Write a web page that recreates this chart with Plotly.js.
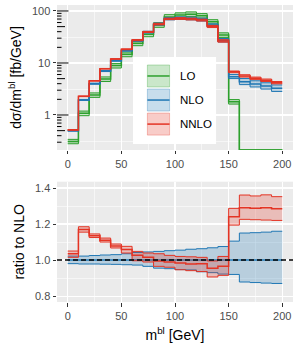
<!DOCTYPE html>
<html>
<head>
<meta charset="utf-8">
<script src="https://cdn.plot.ly/plotly-3.0.1.min.js"></script>
<style>html,body{margin:0;padding:0;background:#fff;}#chart{width:300px;height:350px;}</style>
</head>
<body>
<div id="chart"></div>
<script>
// ---- data (bin edges in GeV) ----
const edges = [0,10,20,30,40,50,60,70,80,90,100,110,120,130,140,150,160,170,180,190,200];
// top panel: dσ/dm^bl [fb/GeV]
const LO_c  = [0.31,1.08,2.42,4.9,8.9,14.7,23.9,35.5,54,77,84,87,81,62,34.5,1.8,0,0,0,0];
const LO_lo = [0.28,0.97,2.18,4.4,8.0,13.2,21.5,32,48.5,69,76,78,73,56,31,1.62,0,0,0,0];
const LO_hi = [0.34,1.19,2.66,5.4,9.8,16.2,26.3,39,59.5,85,92,96,89,68,38,1.98,0,0,0,0];
const NLO_c = [0.5,1.95,4.0,7.0,11.1,17.3,26.9,39,56,71,73,71.5,68.5,53,27.5,5.45,4.37,3.95,3.61,3.26];
// bottom panel: ratio to NLO
const rNLO_lo  = [0.98,0.978,0.978,0.977,0.976,0.974,0.972,0.965,0.955,0.952,0.947,0.945,0.935,0.93,0.922,0.92,0.878,0.875,0.872,0.87];
const rNLO_hi  = [1.022,1.022,1.025,1.028,1.03,1.035,1.042,1.045,1.048,1.052,1.055,1.06,1.063,1.068,1.075,1.105,1.15,1.152,1.155,1.16];
const rNNLO_c  = [1.035,1.17,1.135,1.11,1.078,1.058,1.026,1.015,0.995,0.989,0.983,0.978,0.98,0.955,0.965,1.24,1.29,1.288,1.29,1.285];
const rNNLO_lo = [1.015,1.155,1.125,1.10,1.067,1.039,0.996,0.989,0.965,0.96,0.946,0.941,0.936,0.906,0.915,1.194,1.226,1.224,1.222,1.22];
const rNNLO_hi = [1.05,1.185,1.145,1.122,1.089,1.076,1.048,1.039,1.035,1.026,1.02,1.018,1.015,0.995,1.02,1.287,1.361,1.356,1.362,1.352];
const xTicks = [0,50,100,150,200];
const yTopTicks = [1,10,100];
const yBotTicks = [0.8,1.0,1.2,1.4];
const logTicks = [0.3,0.4,0.5,0.6,0.7,0.8,0.9,1,2,3,4,5,6,7,8,9,10,20,30,40,50,60,70,80,90,100];
const legendLabels = ['LO','NLO','NNLO'];

// ---- derived quantities ----
const NLO_lo  = NLO_c.map((v,i)=>v*rNLO_lo[i]);
const NLO_hi  = NLO_c.map((v,i)=>v*rNLO_hi[i]);
const NNLO_c  = NLO_c.map((v,i)=>v*rNNLO_c[i]);
const NNLO_lo = NLO_c.map((v,i)=>v*rNNLO_lo[i]);
const NNLO_hi = NLO_c.map((v,i)=>v*rNNLO_hi[i]);
const rNLO_c  = NLO_c.map(v=>v/v);

const topRange = [-0.673, 2.115];
const botRange = [0.767, 1.435];
const floorVal = Math.pow(10, topRange[0]); // zero on log scale drawn at panel edge (like ggplot -Inf)

const GREEN = '#2ca02c', BLUE = '#1f77b4', RED = '#e43424';
function rgba(hex,a){const n=parseInt(hex.slice(1),16);return `rgba(${n>>16},${(n>>8)&255},${n&255},${a})`;}
function step(v, isLog){ const w = isLog ? v.map(x=> x>0 ? x : floorVal) : v.slice(); return w.concat([w[w.length-1]]); }

const traces = [];
function band(lo, c, hi, color, xa, ya, isLog){
  traces.push({x:edges, y:step(lo,isLog), xaxis:xa, yaxis:ya, mode:'lines', line:{shape:'hv', color:color, width:1}, showlegend:false, hoverinfo:'skip'});
  traces.push({x:edges, y:step(hi,isLog), xaxis:xa, yaxis:ya, mode:'lines', fill:'tonexty', fillcolor:rgba(color,0.25), line:{shape:'hv', color:color, width:1}, showlegend:false, hoverinfo:'skip'});
  if(c) traces.push({x:edges, y:step(c,isLog), xaxis:xa, yaxis:ya, mode:'lines', line:{shape:'hv', color:color, width:1.5}, showlegend:false});
}
band(LO_lo, LO_c, LO_hi, GREEN, 'x', 'y', true);
band(NLO_lo, NLO_c, NLO_hi, BLUE, 'x', 'y', true);
band(NNLO_lo, NNLO_c, NNLO_hi, RED, 'x', 'y', true);
band(rNLO_lo, rNLO_c, rNLO_hi, BLUE, 'x2', 'y2', false);
band(rNNLO_lo, rNNLO_c, rNNLO_hi, RED, 'x2', 'y2', false);

const FONT = 'Liberation Sans, Arial, Helvetica, sans-serif';
const tickFont = {family:FONT, size:11, color:'#4d4d4d'};
const titleFont = {family:FONT, size:14, color:'#000'};

function xAxis(anchor, extra){
  return Object.assign({anchor:anchor, domain:[0,1], range:[-10,210], tickmode:'array', tickvals:xTicks, ticktext:xTicks.map(String),
    ticks:'outside', ticklen:3.5, tickwidth:1, tickcolor:'#333', tickfont:tickFont,
    showgrid:true, gridcolor:'#fff', gridwidth:1.1, zeroline:false, showline:false,
    minor:{tickmode:'array', tickvals:[25,75,125,175], showgrid:true, gridcolor:'#fff', gridwidth:0.55, ticks:''}}, extra||{});
}

const shapes = [];
// log ticks (annotation_logticks style) on left of top panel
logTicks.forEach(v=>{
  const m = Math.round(v / Math.pow(10, Math.floor(Math.log10(v)+1e-9)));
  const len = (m===1) ? 11.5 : (m===5 ? 8 : 4.5);
  shapes.push({type:'line', xref:'paper', xsizemode:'pixel', xanchor:0, x0:0, x1:len, yref:'y', y0:v, y1:v,
    line:{color:'#000', width:1}, layer:'above'});
});
// reference line at ratio 1
const refRatio = 1;
shapes.push({type:'line', xref:'paper', x0:0, x1:1, yref:'y2', y0:refRatio, y1:refRatio, line:{color:'#000', width:1.4, dash:'5px,3px'}, layer:'above'});

// manual ggplot-style legend
const annotations = [];
shapes.push({type:'rect', xref:'paper', yref:'paper', x0:0.322, x1:0.674, y0:0.532, y1:0.825, fillcolor:'#fff', line:{width:0}, layer:'above'});
const keyRows = [[0.724,0.798],[0.643,0.717],[0.562,0.636]];
[GREEN, BLUE, RED].forEach((col,i)=>{
  const [y0,y1] = keyRows[i];
  shapes.push({type:'rect', xref:'paper', yref:'paper', x0:0.383, x1:0.477, y0:y0, y1:y1, fillcolor:rgba(col,0.25), line:{color:rgba(col,0.3), width:1}, layer:'above'});
  shapes.push({type:'line', xref:'paper', yref:'paper', x0:0.383, x1:0.477, y0:(y0+y1)/2, y1:(y0+y1)/2, line:{color:col, width:1.5}, layer:'above'});
  annotations.push({xref:'paper', yref:'paper', x:0.513, y:(y0+y1)/2, xanchor:'left', yanchor:'middle', text:legendLabels[i], showarrow:false, font:{family:FONT, size:11.5, color:'#000'}});
});

const layout = {
  width:300, height:350, margin:{l:57, r:7, t:5, b:48},
  paper_bgcolor:'#fff', plot_bgcolor:'#ebebeb', showlegend:false,
  xaxis: xAxis('y'),
  yaxis: {domain:[0.5118,1], type:'log', range:topRange, tickmode:'array', tickvals:yTopTicks, ticktext:yTopTicks.map(String),
    ticks:'outside', ticklen:3.5, tickwidth:1, tickcolor:'#333', tickfont:tickFont,
    showgrid:true, gridcolor:'#fff', gridwidth:1.1, zeroline:false, showline:false,
    minor:{tickmode:'array', tickvals:[0.316,3.16,31.6], showgrid:true, gridcolor:'#fff', gridwidth:0.55, ticks:''},
    title:{text:'dσ/dm<sup>bl</sup> [fb/GeV]', font:titleFont, standoff:7}},
  xaxis2: xAxis('y2', {title:{text:'m<sup>bl</sup> [GeV]', font:titleFont, standoff:9}}),
  yaxis2: {domain:[0,0.405], anchor:'x2', range:botRange, tickmode:'array', tickvals:yBotTicks, ticktext:yBotTicks.map(v=>v.toFixed(1)),
    ticks:'outside', ticklen:3.5, tickwidth:1, tickcolor:'#333', tickfont:tickFont,
    showgrid:true, gridcolor:'#fff', gridwidth:1.1, zeroline:false, showline:false,
    minor:{tickmode:'array', tickvals:[0.9,1.1,1.3], showgrid:true, gridcolor:'#fff', gridwidth:0.55, ticks:''},
    title:{text:'ratio to NLO', font:titleFont, standoff:7}},
  shapes:shapes, annotations:annotations
};
Plotly.newPlot('chart', traces, layout, {staticPlot:true, displayModeBar:false});
</script>
</body>
</html>
